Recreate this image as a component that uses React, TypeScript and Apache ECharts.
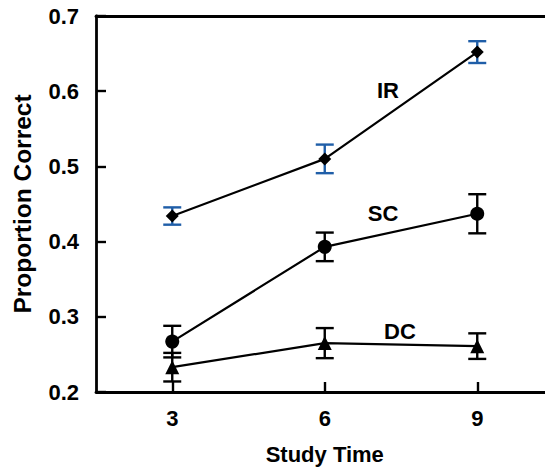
import React, { useEffect, useRef } from "react";
import * as echarts from "echarts";

const studyTimes = [3, 6, 9];
const xTicks = [3, 6, 9];
const irMeans = [0.434, 0.51, 0.652];
const irErrors = [0.0115, 0.019, 0.0145];
const scMeans = [0.267, 0.393, 0.437];
const scErrors = [0.021, 0.019, 0.026];
const dcMeans = [0.233, 0.265, 0.261];
const dcErrors = [0.019, 0.02, 0.017];
const seriesNames = ["IR", "SC", "DC"];

const FONT = "'Liberation Sans', Arial, Helvetica, sans-serif";

function pts(means: number[]) {
  return studyTimes.map((x, i) => [x, means[i]]);
}
function errs(means: number[], e: number[]) {
  return studyTimes.map((x, i) => [x, means[i] - e[i], means[i] + e[i]]);
}

function errorSeries(data: number[][], color: string) {
  return {
    type: "custom",
    data,
    z: 1,
    renderItem: (params: any, api: any) => {
      const x = api.value(0);
      const lo = api.coord([x, api.value(1)]);
      const hi = api.coord([x, api.value(2)]);
      const hw = 9;
      const style = { stroke: color, lineWidth: 2.4 };
      return {
        type: "group",
        children: [
          { type: "line", shape: { x1: lo[0], y1: lo[1], x2: hi[0], y2: hi[1] }, style },
          { type: "line", shape: { x1: lo[0] - hw, y1: lo[1], x2: lo[0] + hw, y2: lo[1] }, style },
          { type: "line", shape: { x1: hi[0] - hw, y1: hi[1], x2: hi[0] + hw, y2: hi[1] }, style },
        ],
      };
    },
  };
}

function lineSeries(name: string, means: number[], symbol: string, size: number) {
  return {
    type: "line",
    name,
    data: pts(means),
    symbol,
    symbolSize: size,
    z: 3,
    lineStyle: { color: "#000", width: 2.2 },
    itemStyle: { color: "#000", borderWidth: 0 },
  };
}

export default function App() {
  const ref = useRef<HTMLDivElement>(null);
  useEffect(() => {
    if (!ref.current) return;
    const chart = echarts.init(ref.current, null, { renderer: "svg" });
    const axisLine = { show: true, lineStyle: { color: "#000", width: 2.8 } };
    const labelText = (text: string, x: number, y: number) => ({
      type: "text",
      x,
      y,
      style: { text, fontFamily: FONT, fontWeight: "bold", fontSize: 22, fill: "#000", align: "center", verticalAlign: "middle" },
    });
    chart.setOption({
      animation: false,
      backgroundColor: "#fff",
      grid: { left: 96, top: 16, right: 6.5, bottom: 78, containLabel: false },
      xAxis: [
        {
          type: "value",
          min: 1.5,
          max: 10.5,
          position: "bottom",
          name: "Study Time",
          nameLocation: "middle",
          nameGap: 51,
          nameTextStyle: { fontFamily: FONT, fontWeight: "bold", fontSize: 22, color: "#000" },
          axisLine,
          axisTick: {
            show: true,
            inside: true,
            length: 10,
            customValues: xTicks,
            lineStyle: { color: "#000", width: 2.4 },
          },
          axisLabel: {
            customValues: xTicks,
            margin: 15,
            fontFamily: FONT,
            fontWeight: "bold",
            fontSize: 22,
            color: "#000",
          },
          splitLine: { show: false },
        },
        {
          type: "value",
          min: 1.5,
          max: 10.5,
          position: "top",
          axisLine,
          axisTick: { show: false },
          axisLabel: { show: false },
          splitLine: { show: false },
        },
      ],
      yAxis: {
        type: "value",
        min: 0.2,
        max: 0.7,
        interval: 0.1,
        name: "Proportion Correct",
        nameLocation: "middle",
        nameGap: 61,
        nameTextStyle: { fontFamily: FONT, fontWeight: "bold", fontSize: 24.5, color: "#000" },
        axisLine,
        axisTick: { show: true, inside: true, length: 10, lineStyle: { color: "#000", width: 2.4 } },
        axisLabel: {
          margin: 17,
          fontFamily: FONT,
          fontWeight: "bold",
          fontSize: 22,
          color: "#000",
          formatter: (v: number) => v.toFixed(1),
        },
        splitLine: { show: false },
      },
      series: [
        errorSeries(errs(irMeans, irErrors), "#1f5ea8"),
        errorSeries(errs(scMeans, scErrors), "#000"),
        errorSeries(errs(dcMeans, dcErrors), "#000"),
        lineSeries(seriesNames[0], irMeans, "diamond", 13),
        lineSeries(seriesNames[1], scMeans, "circle", 14),
        lineSeries(seriesNames[2], dcMeans, "triangle", 14),
      ],
      graphic: [
        labelText(seriesNames[0], 388, 90),
        labelText(seriesNames[1], 383, 213),
        labelText(seriesNames[2], 400, 331),
      ],
    });
    return () => chart.dispose();
  }, []);
  return (
    <div style={{ position: "absolute", left: 0, top: 0, width: 545, height: 470, overflow: "hidden", background: "#fff" }}>
      <div ref={ref} style={{ width: 560, height: 470 }} />
    </div>
  );
}
